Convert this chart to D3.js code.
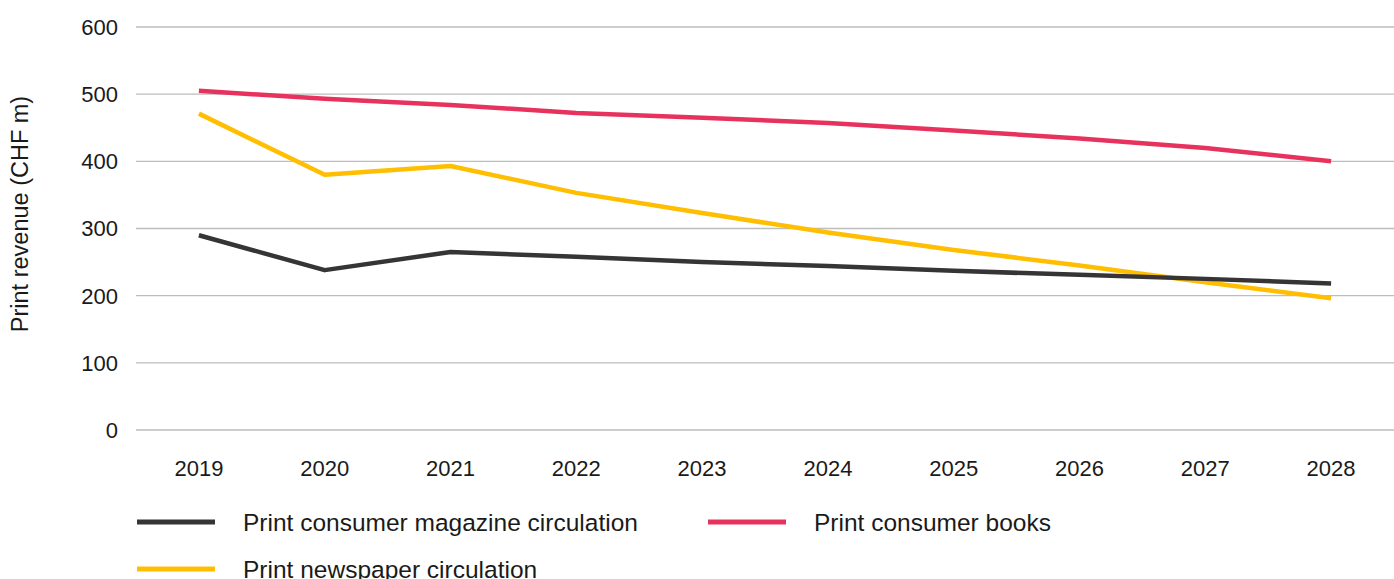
<!DOCTYPE html>
<html><head><meta charset="utf-8">
<script src="https://cdn.jsdelivr.net/npm/d3@7"></script>
<style>body{margin:0;background:#fff}svg{display:block}text{font-family:"Liberation Sans",Arial,sans-serif;fill:#1a1a1a}</style>
</head><body><svg id="c" width="1394" height="579"></svg>
<script>
const years = ["2019","2020","2021","2022","2023","2024","2025","2026","2027","2028"];
const magazine = [290, 238, 265, 258, 250, 244, 237, 231, 225, 218];
const books = [505, 493, 484, 472, 465, 457, 446, 434, 420, 400];
const newspaper = [471, 380, 393, 353, 323, 294, 268, 245, 220, 196];
const yTicks = [0, 100, 200, 300, 400, 500, 600];
const seriesNames = ["Print consumer magazine circulation", "Print consumer books", "Print newspaper circulation"];
const colors = ["#363436", "#E8325E", "#FFBE00"];
const yTitle = "Print revenue (CHF m)";

const svg = d3.select("#c");
const L = 136, R = 1394, T = 27, B = 430;
const x = d3.scaleBand().domain(years).range([L, R]);
const y = d3.scaleLinear().domain([0, 600]).range([B, T]);

// grid
svg.append("g").selectAll("line").data(yTicks).join("line")
  .attr("x1", L).attr("x2", R).attr("y1", d => y(d)).attr("y2", d => y(d))
  .attr("stroke", "#bdbdbd").attr("stroke-width", 1.3);

// y labels
svg.append("g").selectAll("text").data(yTicks).join("text")
  .attr("x", 118).attr("y", d => y(d)).attr("dy", "0.36em")
  .attr("text-anchor", "end").attr("font-size", 22).text(d => d);

// x labels
svg.append("g").selectAll("text").data(years).join("text")
  .attr("x", d => x(d) + x.bandwidth() / 2).attr("y", 476)
  .attr("text-anchor", "middle").attr("font-size", 22).text(d => d);

// title
svg.append("text").attr("transform", "translate(28,214) rotate(-90)")
  .attr("text-anchor", "middle").attr("font-size", 23.5).text(yTitle);

const line = d3.line().x((d, i) => x(years[i]) + x.bandwidth() / 2).y(d => y(d));
const data = [magazine, books, newspaper];
const order = [2, 1, 0];
order.forEach(k => {
  svg.append("path").attr("d", line(data[k])).attr("fill", "none")
    .attr("stroke", colors[k]).attr("stroke-width", 4.5).attr("stroke-linejoin", "round");
});

// legend
const legPos = [[137, 522], [708, 522], [137, 569]];
seriesNames.forEach((n, i) => {
  const [lx, ly] = legPos[i];
  svg.append("line").attr("x1", lx).attr("x2", lx + 78).attr("y1", ly).attr("y2", ly)
    .attr("stroke", colors[i]).attr("stroke-width", 5);
  svg.append("text").attr("x", lx + 106).attr("y", ly).attr("dy", "0.36em")
    .attr("font-size", 24.5).text(n);
});
</script></body></html>
